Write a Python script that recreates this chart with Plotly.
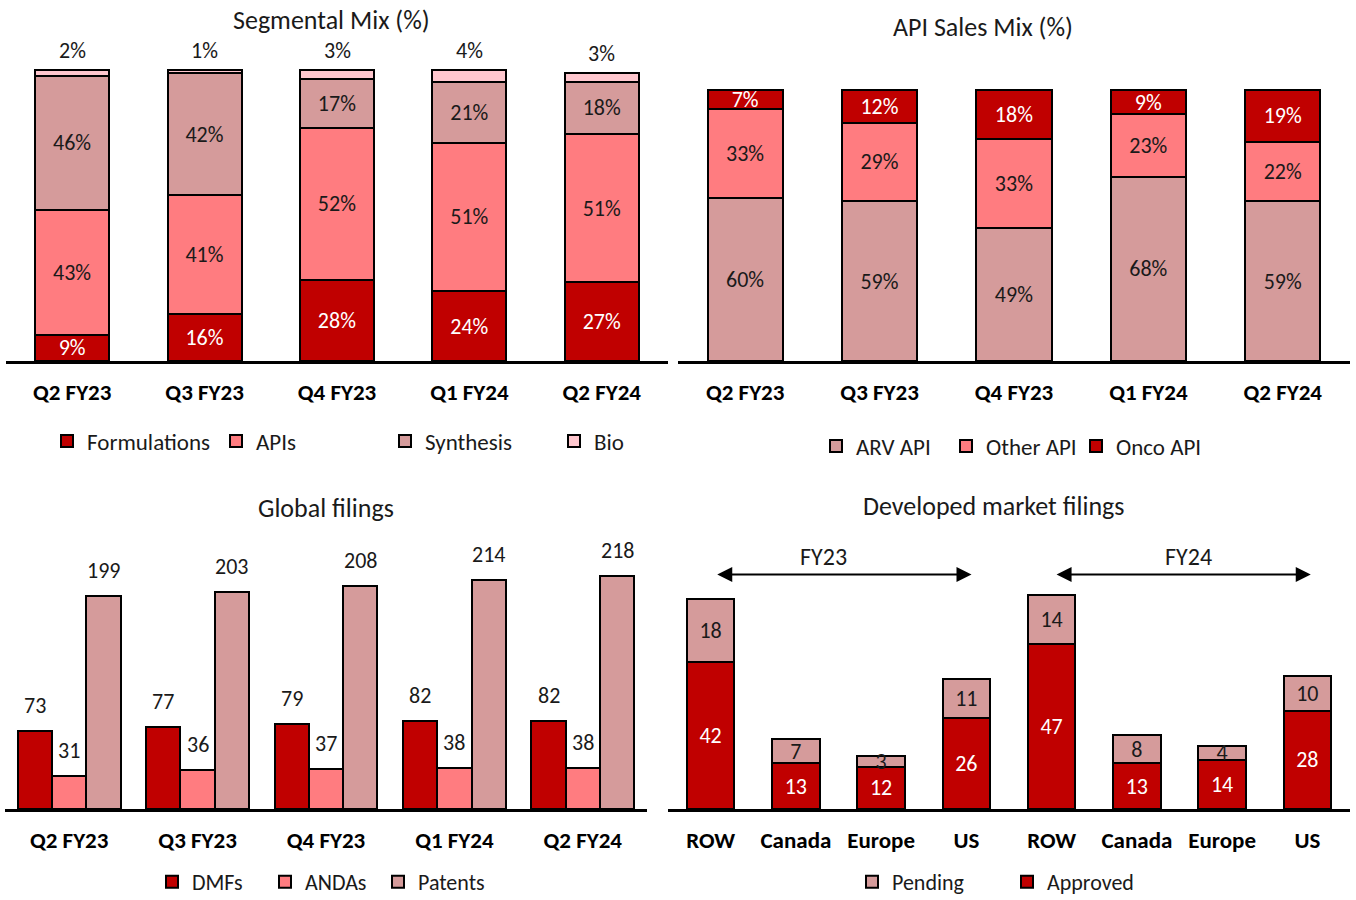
import plotly.graph_objects as go

FONT = "Carlito, Calibri, Lato, sans-serif"

# ---------- data ----------
quarters = ["Q2 FY23", "Q3 FY23", "Q4 FY23", "Q1 FY24", "Q2 FY24"]

seg_formulations = [9, 16, 28, 24, 27]
seg_apis = [43, 41, 52, 51, 51]
seg_synthesis = [46, 42, 17, 21, 18]
seg_bio = [2, 1, 3, 4, 3]

api_arv = [60, 59, 49, 68, 59]
api_other = [33, 29, 33, 23, 22]
api_onco = [7, 12, 18, 9, 19]

gf_dmfs = [73, 77, 79, 82, 82]
gf_andas = [31, 36, 37, 38, 38]
gf_patents = [199, 203, 208, 214, 218]

dm_markets = ["ROW", "Canada", "Europe", "US", "ROW", "Canada", "Europe", "US"]
dm_approved = [42, 13, 12, 26, 47, 13, 14, 28]
dm_pending = [18, 7, 3, 11, 14, 8, 4, 10]

# ---------- styles ----------
C_DARK = "#C00000"
C_SALMON = "#FF7C80"
C_DUSTY = "#D59B9B"
C_LIGHT = "#FFC7CE"
TXT = "#1a1a1a"
LINE = dict(color="black", width=2)
W = 1356
H = 900
VAL_SIZE = 22

def px_x(a, b):
    return [a / W, b / W]

def px_y(top, bottom):
    return [(H - bottom) / H, (H - top) / H]

fig = go.Figure()

def bar(name, x, y, color, xa, ya, legend, txtcolor, pos="inside", width=None,
        offsetgroup=None, fmt="%{y}%"):
    fig.add_trace(go.Bar(
        name=name, x=x, y=y, marker=dict(color=color, line=LINE),
        xaxis=xa, yaxis=ya, legend=legend,
        text=y if pos != "none" else None, texttemplate=fmt if pos != "none" else None,
        textposition=pos, textangle=0,
        insidetextanchor="middle", constraintext="none", cliponaxis=False,
        insidetextfont=dict(family=FONT, size=VAL_SIZE, color=txtcolor),
        outsidetextfont=dict(family=FONT, size=VAL_SIZE, color=TXT),
        width=width, offsetgroup=offsetgroup, hoverinfo="skip",
    ))

# Panel 1: Segmental Mix
bar("Formulations", quarters, seg_formulations, C_DARK, "x", "y", "legend", "white", width=0.56)
bar("APIs", quarters, seg_apis, C_SALMON, "x", "y", "legend", TXT, width=0.56)
bar("Synthesis", quarters, seg_synthesis, C_DUSTY, "x", "y", "legend", TXT, width=0.56)
bar("Bio", quarters, seg_bio, C_LIGHT, "x", "y", "legend", TXT, pos="none", width=0.56)

# Panel 2: API Sales Mix
bar("ARV API", quarters, api_arv, C_DUSTY, "x2", "y2", "legend2", TXT, width=0.56)
bar("Other API", quarters, api_other, C_SALMON, "x2", "y2", "legend2", TXT, width=0.56)
bar("Onco API", quarters, api_onco, C_DARK, "x2", "y2", "legend2", "white", width=0.56)

# Panel 3: Global filings (grouped)
gf_series = [("DMFs", gf_dmfs, C_DARK), ("ANDAs", gf_andas, C_SALMON), ("Patents", gf_patents, C_DUSTY)]
for i, (nm, vals, col) in enumerate(gf_series):
    bar(nm, quarters, vals, col, "x3", "y3", "legend3", TXT, pos="none", offsetgroup=str(i))

# Panel 4: Developed market filings
dm_x = list(range(len(dm_markets)))
bar("Approved", dm_x, dm_approved, C_DARK, "x4", "y4", "legend4", "white", width=0.56, fmt="%{y}")
bar("Pending", dm_x, dm_pending, C_DUSTY, "x4", "y4", "legend4", TXT, width=0.56, fmt="%{y}")

xcommon = dict(showline=True, linewidth=3, linecolor="black", showgrid=False, zeroline=False,
               ticks="outside", ticklen=8, tickcolor="rgba(0,0,0,0)", automargin=False,
               tickfont=dict(family=FONT, size=23, color="black", weight="bold"),
               fixedrange=True)
ycommon = dict(visible=False, showgrid=False, zeroline=False, fixedrange=True, automargin=False)

legcommon = dict(orientation="h", bgcolor="rgba(0,0,0,0)", xanchor="left", yanchor="middle",
                 itemwidth=30, entrywidthmode="pixels", itemclick=False, itemdoubleclick=False)
LEGFONT_TOP = dict(family=FONT, size=23, color=TXT)
LEGFONT_BOT = dict(family=FONT, size=22, color=TXT)

P3_DOM = (5, 647)
fig.update_layout(
    width=W, height=H, margin=dict(l=0, r=0, t=0, b=0, autoexpand=False),
    paper_bgcolor="white", plot_bgcolor="rgba(0,0,0,0)",
    barmode="stack", bargap=0.2, bargroupgap=0,
    uniformtext=dict(minsize=VAL_SIZE, mode="show"),
    font=dict(family=FONT, color=TXT),
    xaxis=dict(domain=px_x(6, 668), anchor="y", **xcommon),
    yaxis=dict(domain=px_y(40, 361), anchor="x", range=[0, 110.3], **ycommon),
    xaxis2=dict(domain=px_x(678, 1350), anchor="y2", **xcommon),
    yaxis2=dict(domain=px_y(40, 361), anchor="x2", range=[0, 118.5], **ycommon),
    xaxis3=dict(domain=px_x(*P3_DOM), anchor="y3", **xcommon),
    yaxis3=dict(domain=px_y(530, 809), anchor="x3", range=[0, 260.7], **ycommon),
    xaxis4=dict(domain=px_x(668, 1350), anchor="y4", tickmode="array",
                tickvals=dm_x, ticktext=dm_markets, range=[-0.5, len(dm_x) - 0.5], **xcommon),
    yaxis4=dict(domain=px_y(530, 809), anchor="x4", range=[0, 79.7], **ycommon),
    legend=dict(x=47 / W, y=(H - 441) / H, entrywidth=124, traceorder="normal",
                font=LEGFONT_TOP, **legcommon),
    legend2=dict(x=816 / W, y=(H - 446) / H, entrywidth=85, traceorder="normal",
                 font=LEGFONT_TOP, **legcommon),
    legend3=dict(x=152 / W, y=(H - 882) / H, entrywidth=68, traceorder="normal",
                 font=LEGFONT_BOT, **legcommon),
    legend4=dict(x=852 / W, y=(H - 882) / H, entrywidth=110, traceorder="reversed",
                 font=LEGFONT_BOT, **legcommon),
    showlegend=True,
)

# Bio labels above the stacks (panel 1)
seg_totals = [a + b + c + d for a, b, c, d in zip(seg_formulations, seg_apis, seg_synthesis, seg_bio)]
for q, tot, v in zip(quarters, seg_totals, seg_bio):
    fig.add_annotation(x=q, y=tot, xref="x", yref="y", text=f"{v}%", showarrow=False,
                       yanchor="bottom", yshift=4, font=dict(family=FONT, size=VAL_SIZE, color=TXT))

# Value labels above grouped bars (panel 3)
group_px = (P3_DOM[1] - P3_DOM[0]) / len(quarters)
bar_px = group_px * (1 - 0.2) / len(gf_series)
for i, (nm, vals, col) in enumerate(gf_series):
    for q, v in zip(quarters, vals):
        fig.add_annotation(x=q, y=v, xref="x3", yref="y3", text=str(v), showarrow=False,
                           yanchor="bottom", yshift=10, xshift=(i - 1) * bar_px,
                           font=dict(family=FONT, size=VAL_SIZE, color=TXT))

titles = [("Segmental Mix (%)", 331, 20), ("API Sales Mix (%)", 983, 27),
          ("Global filings", 326, 508), ("Developed market filings", 993, 506)]
for t, x, y in titles:
    fig.add_annotation(text=t, x=x / W, y=(H - y) / H, xref="paper", yref="paper",
                       showarrow=False, xanchor="center", yanchor="middle",
                       font=dict(family=FONT, size=26, color=TXT))

# FY arrows in panel 4
for lbl, x0, x1, xt in [("FY23", 0.06, 3.06, 1.32), ("FY24", 4.04, 7.04, 5.6)]:
    fig.add_annotation(x=x1, y=67, ax=x0, ay=67, xref="x4", yref="y4", axref="x4", ayref="y4",
                       text="", showarrow=True, arrowhead=2, arrowside="end+start",
                       arrowsize=1.5, arrowwidth=2, arrowcolor="black")
    fig.add_annotation(x=xt, y=72, xref="x4", yref="y4", text=lbl, showarrow=False,
                       font=dict(family=FONT, size=24, color=TXT))

fig.write_html("out.html", config={"displayModeBar": False},
               post_script="document.body.style.margin='0';")
